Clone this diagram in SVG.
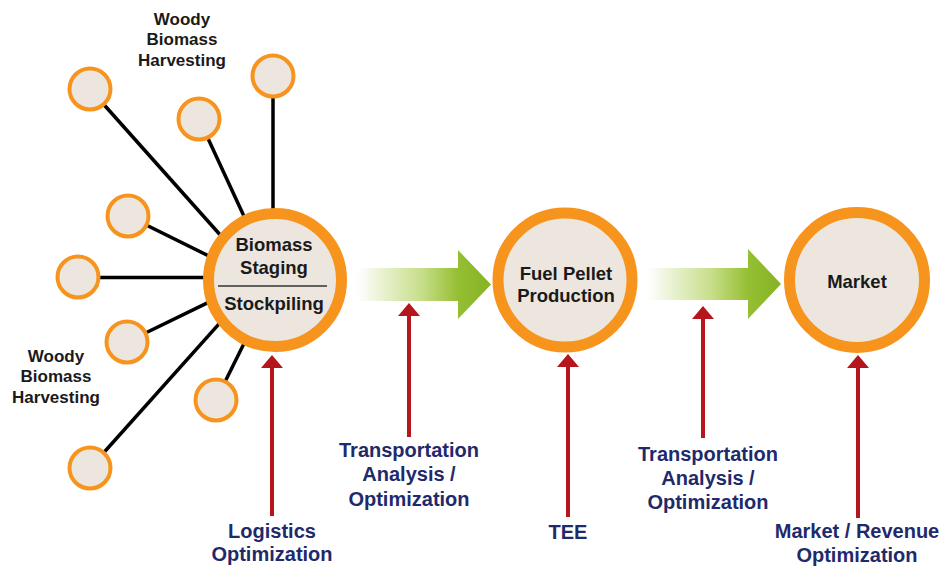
<svg xmlns="http://www.w3.org/2000/svg" width="943" height="567" viewBox="0 0 943 567">
<style>
.small{fill:#ece6de;stroke:#f7941d;stroke-width:4}
.big{fill:#ece6de;stroke:#f7941d;stroke-width:11}
.spoke{stroke:#000;stroke-width:3.5;fill:none}
.red{stroke:#b5161e;stroke-width:4;fill:none;marker-end:url(#ah)}
.t{font-family:"Liberation Sans",Arial,sans-serif;font-weight:bold;text-anchor:middle}
.node{font-size:18.5px;fill:#1a1a1a}
.woody{font-size:17px;fill:#1a1a1a}
.lab{font-size:20px;fill:#1f2a6b}
</style>
<defs>
<marker id="ah" markerUnits="userSpaceOnUse" markerWidth="14" markerHeight="22" viewBox="0 0 14 22" refX="3" refY="11" orient="auto">
<path d="M0,0 L13,11 L0,22 Z" fill="#b5161e"/>
</marker>
<linearGradient id="gr" x1="0" y1="0" x2="1" y2="0">
<stop offset="0" stop-color="#ffffff" stop-opacity="0"/>
<stop offset="0.12" stop-color="#f4f8e8"/>
<stop offset="0.5" stop-color="#c6de88"/>
<stop offset="0.76" stop-color="#96bf33"/>
<stop offset="1" stop-color="#84b323"/>
</linearGradient>
</defs>
<rect width="943" height="567" fill="#fff"/>
<g id="connectors">
<line class="spoke" x1="90" y1="89" x2="223.4" y2="238.5"/>
<line class="spoke" x1="199" y1="119" x2="246.9" y2="222.4"/>
<line class="spoke" x1="273" y1="76" x2="273" y2="215"/>
<line class="spoke" x1="128" y1="216" x2="212.3" y2="257.7"/>
<line class="spoke" x1="78" y1="277.5" x2="210" y2="277.5"/>
<line class="spoke" x1="127" y1="342" x2="212" y2="300.6"/>
<line class="spoke" x1="216" y1="400" x2="246.1" y2="339.3"/>
<line class="spoke" x1="90" y1="468" x2="221.7" y2="320.8"/>
<path id="flow1" d="M353,268 H458 V250 L491,284.5 L458,319 V301 H353 Z" fill="url(#gr)"/>
<path id="flow2" d="M643,268 H748 V249 L781,284 L748,319 V300 H643 Z" fill="url(#gr)"/>
<line class="red" x1="272" y1="516" x2="272" y2="365"/>
<line class="red" x1="409" y1="437" x2="409" y2="313"/>
<line class="red" x1="568" y1="517" x2="568" y2="364"/>
<line class="red" x1="703" y1="438" x2="703" y2="316"/>
<line class="red" x1="858" y1="518" x2="858" y2="365"/>
</g>
<g id="h1"><circle class="small" cx="90" cy="89" r="20.5"/></g>
<g id="h2"><circle class="small" cx="199" cy="119" r="20.5"/></g>
<g id="h3"><circle class="small" cx="273" cy="76" r="20.5"/></g>
<g id="h4"><circle class="small" cx="128" cy="216" r="20.5"/></g>
<g id="h5"><circle class="small" cx="78" cy="277" r="20.5"/></g>
<g id="h6"><circle class="small" cx="127" cy="342" r="20.5"/></g>
<g id="h7"><circle class="small" cx="216" cy="400" r="20.5"/></g>
<g id="h8"><circle class="small" cx="90" cy="468" r="20.5"/></g>
<g id="staging">
<circle class="big" cx="275" cy="280" r="66.5"/>
<text class="t node" x="274" y="251">Biomass</text>
<text class="t node" x="274" y="274">Staging</text>
<line x1="218" y1="286" x2="327" y2="286" stroke="#333" stroke-width="1.5"/>
<text class="t node" x="274" y="310">Stockpiling</text>
</g>
<g id="pellet">
<circle class="big" cx="565" cy="280" r="67"/>
<text class="t node" x="566" y="280">Fuel Pellet</text>
<text class="t node" x="566" y="302">Production</text>
</g>
<g id="market">
<circle class="big" cx="857" cy="280" r="67.5"/>
<text class="t node" x="857" y="288">Market</text>
</g>
<g id="woody-top">
<text class="t woody" x="182" y="25">Woody</text>
<text class="t woody" x="182" y="45">Biomass</text>
<text class="t woody" x="182" y="66">Harvesting</text>
</g>
<g id="woody-left">
<text class="t woody" x="56" y="362">Woody</text>
<text class="t woody" x="56" y="382">Biomass</text>
<text class="t woody" x="56" y="403">Harvesting</text>
</g>
<g id="logistics">
<text class="t lab" x="272" y="538">Logistics</text>
<text class="t lab" x="272" y="561">Optimization</text>
</g>
<g id="transport1">
<text class="t lab" x="409" y="457">Transportation</text>
<text class="t lab" x="409" y="481">Analysis /</text>
<text class="t lab" x="409" y="506">Optimization</text>
</g>
<g id="tee">
<text class="t lab" x="568" y="539">TEE</text>
</g>
<g id="transport2">
<text class="t lab" x="708" y="461">Transportation</text>
<text class="t lab" x="708" y="485">Analysis /</text>
<text class="t lab" x="708" y="509">Optimization</text>
</g>
<g id="revenue">
<text class="t lab" x="857" y="538">Market / Revenue</text>
<text class="t lab" x="857" y="562">Optimization</text>
</g>
</svg>
